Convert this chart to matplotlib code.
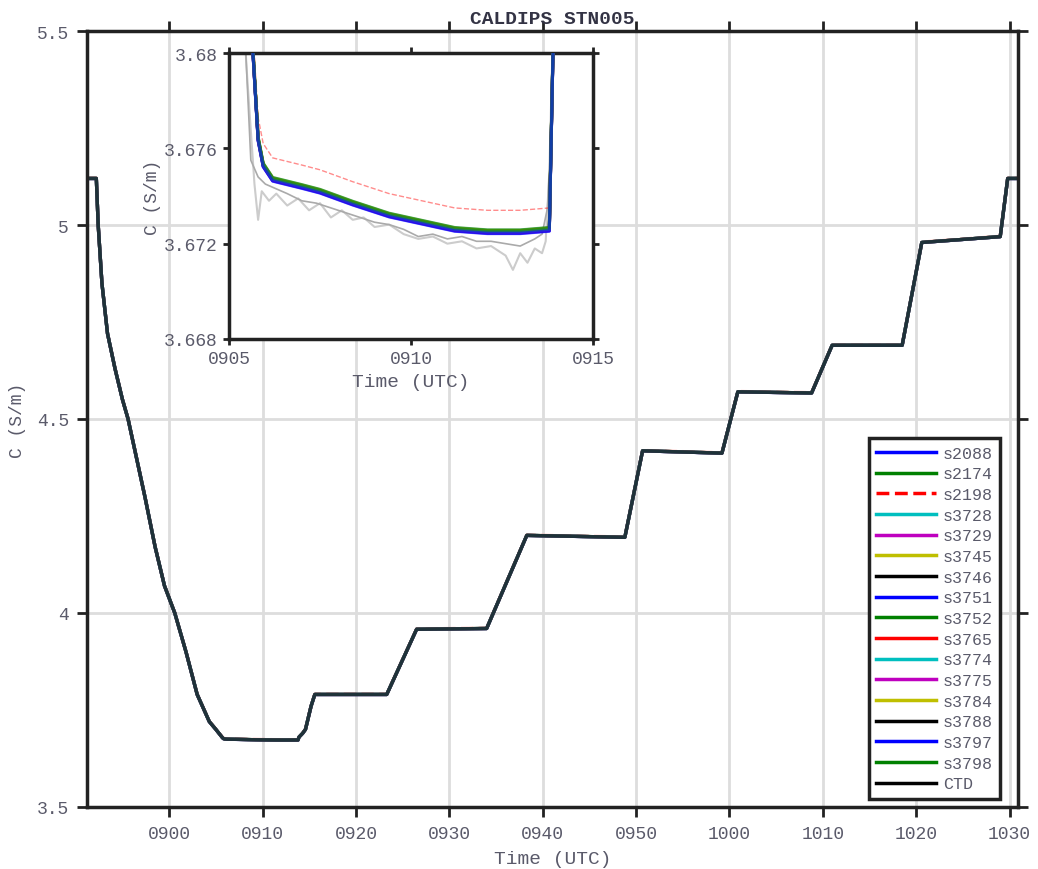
import matplotlib.pyplot as plt
import numpy as np
from matplotlib.ticker import FixedLocator, FuncFormatter

plt.rcParams['font.family'] = ['Liberation Mono', 'DejaVu Sans Mono']

# time in minutes after midnight (0900 = 540)
base_t = [531.2, 532.2, 532.4, 532.8, 533.4, 534.2, 535.0, 535.6, 536.5, 537.4,
          538.5, 539.5, 540.6, 541.8, 543.0, 544.3, 545.0, 545.66, 545.8, 545.94,
          546.2, 547.0, 547.5, 548.4, 549.4, 550.3, 551.2, 552.1, 553.0, 553.8,
          553.9, 554.3, 554.6, 555.2, 555.6, 563.3, 566.5, 574.0, 578.3, 588.8,
          590.7, 599.2, 600.9, 608.8, 611.0, 618.5, 620.6, 629.0, 629.8, 630.9]
base_c = [5.12, 5.12, 5.00, 4.85, 4.72, 4.63, 4.55, 4.50, 4.40, 4.30,
          4.17, 4.07, 4.00, 3.90, 3.79, 3.72, 3.70, 3.680, 3.6764, 3.6753,
          3.6747, 3.6744, 3.6742, 3.6737, 3.6732, 3.6729, 3.6726, 3.6725, 3.6725, 3.6726,
          3.680, 3.690, 3.700, 3.760, 3.790, 3.790, 3.958, 3.960, 4.200, 4.195,
          4.418, 4.412, 4.570, 4.567, 4.690, 4.690, 4.955, 4.970, 5.120, 5.120]

sensors = ['s2088', 's2174', 's2198', 's3728', 's3729', 's3745', 's3746', 's3751',
           's3752', 's3765', 's3774', 's3775', 's3784', 's3788', 's3797', 's3798', 'CTD']
offsets = [-0.00006, 0.00005, 0.0009, 0.0, -0.00003, 0.00004, 0.00001, -0.00008,
           0.00007, 0.00002, -0.00002, -0.00005, 0.00003, -0.00004, -0.00007, 0.00008, 0.0]
colors = ['#0000ff', '#008000', '#ff0000', '#00bfbf', '#bf00bf', '#bfbf00', '#000000', '#0000ff',
          '#008000', '#ff0000', '#00bfbf', '#bf00bf', '#bfbf00', '#000000', '#0000ff', '#008000', '#000000']
styles = ['-', '-', '--', '-', '-', '-', '-', '-', '-', '-', '-', '-', '-', '-', '-', '-', '-']

gray1_t = [545.3, 545.5, 545.7, 545.8, 545.9, 546.1, 546.3, 546.6, 546.9, 547.2, 547.5,
           547.8, 548.1, 548.4, 548.7, 549.0, 549.4, 549.8, 550.2, 550.6, 551.0, 551.4,
           551.8, 552.2, 552.6, 552.8, 553.0, 553.2, 553.4, 553.6, 553.7, 553.8, 553.9]
gray1_c = [3.684, 3.679, 3.6745, 3.673, 3.6742, 3.6738, 3.6741, 3.6736, 3.6739, 3.6734, 3.6737,
           3.6731, 3.6734, 3.6730, 3.6731, 3.6727, 3.6728, 3.6724, 3.6722, 3.6723, 3.6720, 3.6721,
           3.6718, 3.6719, 3.6715, 3.6709, 3.6716, 3.6712, 3.6718, 3.6716, 3.6721, 3.6750, 3.6810]
gray2_t = [545.4, 545.6, 545.8, 546.0, 546.3, 546.6, 547.0, 547.4, 547.8, 548.2, 548.6, 549.0,
           549.4, 549.8, 550.2, 550.6, 551.0, 551.4, 551.8, 552.2, 552.6, 553.0, 553.4, 553.6,
           553.75, 553.85, 553.95]
gray2_c = [3.682, 3.6755, 3.6748, 3.6745, 3.6743, 3.6741, 3.6738, 3.6737, 3.6735, 3.6733, 3.6731,
           3.6729, 3.6728, 3.6726, 3.6723, 3.6724, 3.6722, 3.6723, 3.6721, 3.6721, 3.6720, 3.6719,
           3.6722, 3.6724, 3.6735, 3.6765, 3.6820]

main_xticks = [540, 550, 560, 570, 580, 590, 600, 610, 620, 630]
inset_xticks = [545, 550, 555]
inset_yticks = [3.668, 3.672, 3.676, 3.68]

txt_col = '#5a5a6a'


def hhmm(x, pos=None):
    return f"{int(x // 60):02d}{int(round(x % 60)):02d}"


fig = plt.figure(figsize=(10.38, 8.7), dpi=100)
ax = fig.add_axes([0.0838, 0.0713, 0.8969, 0.8919])

t = np.array(base_t)
c = np.array(base_c)
n = len(sensors)
for name, off, col, ls in zip(sensors, offsets, colors, styles):
    ax.plot(t, c + off, color=col, ls=ls, lw=2.4, alpha=0.3, label=name)

ax.set_xlim(531.2, 630.9)
ax.set_ylim(3.5, 5.5)
ax.xaxis.set_major_locator(FixedLocator(main_xticks))
ax.xaxis.set_major_formatter(FuncFormatter(hhmm))
ax.set_yticks([3.5, 4, 4.5, 5, 5.5])
ax.set_yticklabels(['3.5', '4', '4.5', '5', '5.5'])
ax.grid(True, color='#dddddd', lw=2)
ax.set_axisbelow(True)
ax.tick_params(direction='out', length=7, width=2, top=True, right=True, pad=6,
               labelsize=13, labelcolor=txt_col, color='#222222')
for s in ax.spines.values():
    s.set_linewidth(2.5)
    s.set_color('#222222')
ax.set_xlabel('Time (UTC)', fontsize=14, color=txt_col, labelpad=6)
ax.set_ylabel('C (S/m)', fontsize=13, color=txt_col, labelpad=8)
ax.set_title('CALDIPS STN005', fontsize=14, fontweight='bold', color='#333344', pad=6)

leg = ax.legend(loc='lower right', bbox_to_anchor=(0.981, 0.0103), borderaxespad=0,
                fontsize=12, handlelength=3.6, labelspacing=0.34, fancybox=False,
                framealpha=1, edgecolor='#222222', handletextpad=0.4, borderpad=0.45)
leg.get_frame().set_linewidth(2.5)
for h in leg.get_lines():
    h.set_linewidth(2.5)
    h.set_alpha(1)
for txt in leg.get_texts():
    txt.set_color(txt_col)

# inset
axi = fig.add_axes([0.2206, 0.6092, 0.3507, 0.3287])
axi.plot(gray1_t, gray1_c, color='#cccccc', lw=1.5)
axi.plot(gray2_t, gray2_c, color='#aaaaaa', lw=1.2)
for i, (name, off, col, ls) in enumerate(zip(sensors, offsets, colors, styles)):
    if ls == '--':
        axi.plot(t, c + off, color=col, ls=ls, lw=1, alpha=0.45)
    else:
        axi.plot(t, c + off, color=col, ls=ls, lw=2.2, alpha=0.5, zorder=3 + n - i)
axi.set_xlim(545, 555)
axi.set_ylim(3.668, 3.68)
axi.xaxis.set_major_locator(FixedLocator(inset_xticks))
axi.xaxis.set_major_formatter(FuncFormatter(hhmm))
axi.set_yticks(inset_yticks)
axi.set_yticklabels(['3.668', '3.672', '3.676', '3.68'])
axi.tick_params(direction='out', length=4, width=2, top=True, right=True, pad=4,
                labelsize=13, labelcolor=txt_col, color='#222222')
for s in axi.spines.values():
    s.set_linewidth(2.5)
    s.set_color('#222222')
axi.set_xlabel('Time (UTC)', fontsize=14, color=txt_col, labelpad=4)
axi.set_ylabel('C (S/m)', fontsize=13, color=txt_col, labelpad=2)

fig.savefig('out.png', dpi=100)
